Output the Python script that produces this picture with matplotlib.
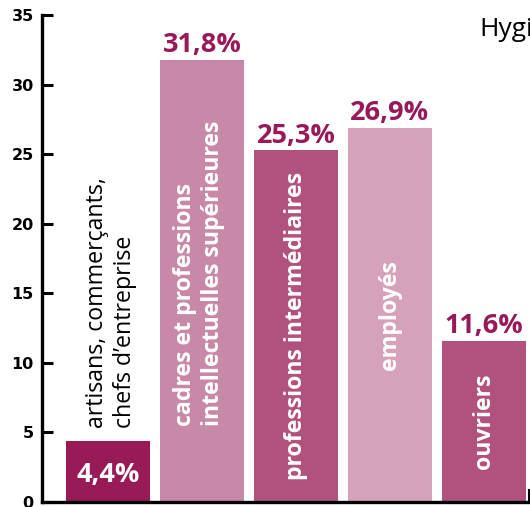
import matplotlib.pyplot as plt

# Data
categories = [
    "artisans, commerçants,\nchefs d’entreprise",
    "cadres et professions\nintellectuelles supérieures",
    "professions intermédiaires",
    "employés",
    "ouvriers",
]
values = [4.4, 31.8, 25.3, 26.9, 11.6]
value_labels = ["4,4%", "31,8%", "25,3%", "26,9%", "11,6%"]
yticks = [0, 5, 10, 15, 20, 25, 30, 35]

colors = ["#981a56", "#c888a7", "#b0527d", "#d6a1bb", "#b0527d"]
label_color = "#98195a"
FONT = "Open Sans"

fig = plt.figure(figsize=(5.30, 5.07), dpi=100)
ax = fig.add_axes([42 / 530, 5 / 507, 487 / 530, 487 / 507])

x = list(range(len(values)))
ax.bar(x, values, width=0.89, color=colors, zorder=2)

ax.set_xlim(-0.702, 4.479)
ax.set_ylim(0, 35)

ax.set_yticks(yticks)
ax.set_yticklabels([str(t) for t in yticks], fontfamily="DejaVu Sans",
                   fontweight="heavy", fontsize=11.5)
ax.tick_params(axis="y", direction="in", length=8, width=2.2, pad=6)
ax.set_xticks([])

for side in ["top", "right"]:
    ax.spines[side].set_visible(False)
for side in ["left", "bottom"]:
    ax.spines[side].set_linewidth(2.4)
ax.spines["bottom"].set_zorder(3)

# small closing tick at the right end of the x axis
ax.plot([1, 1], [0, 0.025], transform=ax.transAxes, color="black",
        lw=1.5, clip_on=False)

# value labels
for i, (v, lab) in enumerate(zip(values, value_labels)):
    if i == 0:
        ax.text(i, 1.95, lab, ha="center", va="center", color="white",
                fontsize=19.5, fontweight="bold", fontfamily=FONT)
    else:
        ax.annotate(lab, (i, v), xytext=(0, 1), textcoords="offset points",
                    ha="center", va="bottom", color=label_color,
                    fontsize=19.5, fontweight="bold", fontfamily=FONT)

# category labels (rotated)
ax.text(0.03, values[0] + 0.9, categories[0], rotation=90, ha="center",
        va="bottom", multialignment="left", color="black", fontsize=16.7,
        fontfamily=FONT, linespacing=1.2)
for i in range(1, len(values)):
    ax.text(i - (0.03 if i == 1 else 0), values[i] / 2 + (0.5 if i == 1 else 0),
            categories[i], rotation=90, ha="center", va="center",
            multialignment="left", color="white", fontsize=16.7,
            fontweight="bold", fontfamily=FONT, linespacing=1.2)

# title cut off at the right edge of the crop
fig.text(479 / 530, 1 - 30 / 507, "Hygiène", ha="left", va="center",
         fontsize=19, fontfamily=FONT, color="black")

fig.savefig("out.png", dpi=100)
